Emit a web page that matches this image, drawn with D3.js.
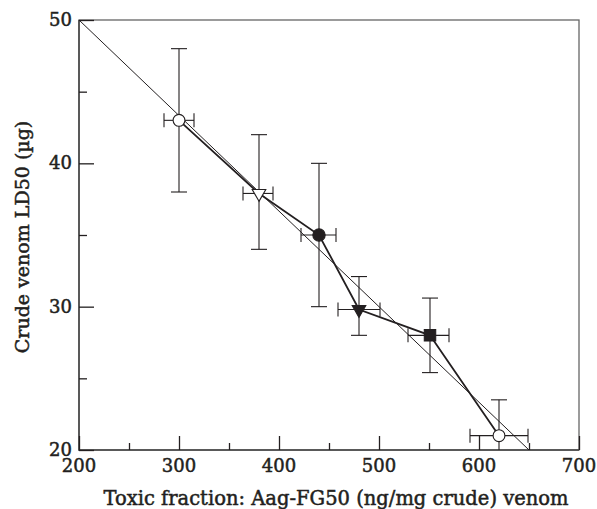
<!DOCTYPE html>
<html lang="en">
<head>
<meta charset="UTF-8">
<title>LD50 vs toxic fraction</title>
<script src="https://cdn.jsdelivr.net/npm/d3@7"></script>
<style>
    body{ margin:0; background:#fff; }
    text{ font-family:"DejaVu Serif", serif; fill:#231f20; stroke:#231f20; stroke-width:0.5px; }
</style>
</head>
<body>
<svg id="fig" width="597" height="509"></svg>
<script>
    // data
    let fg50 = [300, 380, 440, 480, 551, 620]
    let fg50_lo = [285, 364, 422, 459, 529, 591]
    let fg50_hi = [315, 394, 457, 501, 570, 649]
    let ld50 = [43, 37.9, 35, 29.8, 28, 21]
    let ld50_lo = [38, 34, 30, 28, 25.4, 20]
    let ld50_hi = [48, 42, 40, 32.1, 30.6, 23.5]
    let symbols = ["open-circle", "open-tri", "circle", "tri", "square", "open-circle"]
    // regression line ends
    let fit_x = [200, 650]
    let fit_y = [50, 20]
    let x_ticks = [200, 300, 400, 500, 600, 700]
    let y_ticks = [20, 30, 40, 50]

    let svg = d3.select("#fig")
    let m_left = 79, m_right = 579, m_top = 20, m_bottom = 450

    let x_scale = d3.scaleLinear().domain([200, 700]).range([m_left, m_right])
    let y_scale = d3.scaleLinear().domain([20, 50]).range([m_bottom, m_top])

    let ink = "#231f20"

    // frame
    svg.append("rect")
        .attr("x", m_left).attr("y", m_top)
        .attr("width", m_right - m_left).attr("height", m_bottom - m_top)
        .attr("fill", "none").attr("stroke", "#666").attr("stroke-width", 1.3)
    svg.append("path")
        .attr("d", `M${m_left},${m_top}V${m_bottom}H${m_right}`)
        .attr("fill", "none").attr("stroke", "#444").attr("stroke-width", 1.5)

    // inward ticks
    let x_axis = d3.axisTop(x_scale).tickValues(d3.range(200, 701, 50))
        .tickSize(0).tickFormat("")
    let gx = svg.append("g").attr("transform", `translate(0,${m_bottom})`).call(x_axis)
    gx.select(".domain").remove()
    gx.selectAll(".tick line")
        .attr("y2", d => d % 100 === 0 ? -14 : -7)
        .attr("stroke", ink).attr("stroke-width", 1.3)

    let y_axis = d3.axisRight(y_scale).tickValues(d3.range(20, 51, 5))
        .tickSize(0).tickFormat("")
    let gy = svg.append("g").attr("transform", `translate(${m_left},0)`).call(y_axis)
    gy.select(".domain").remove()
    gy.selectAll(".tick line")
        .attr("x2", d => d % 10 === 0 ? 15 : 8)
        .attr("stroke", ink).attr("stroke-width", 1.3)

    // tick labels
    svg.selectAll(".xl").data(x_ticks).join("text")
        .attr("class", "xl")
        .attr("x", d => x_scale(d)).attr("y", m_bottom + 22)
        .attr("text-anchor", "middle")
        .style("font-size", "18px")
        .text(d => d)

    svg.selectAll(".yl").data(y_ticks).join("text")
        .attr("class", "yl")
        .attr("x", m_left - 7).attr("y", d => y_scale(d) + 6)
        .attr("text-anchor", "end")
        .style("font-size", "18px")
        .text(d => d)

    // axis labels
    svg.append("text")
        .attr("x", 336).attr("y", 505)
        .attr("text-anchor", "middle")
        .style("font-size", "19.5px")
        .text("Toxic fraction: Aag-FG50 (ng/mg crude) venom")

    svg.append("text")
        .attr("transform", "translate(29,237) rotate(-90)")
        .attr("text-anchor", "middle")
        .style("font-size", "19px")
        .text("Crude venom LD50 (µg)")

    // regression line
    svg.append("line")
        .attr("x1", x_scale(fit_x[0])).attr("y1", y_scale(fit_y[0]))
        .attr("x2", x_scale(fit_x[1])).attr("y2", y_scale(fit_y[1]))
        .attr("stroke", ink).attr("stroke-width", 1)

    let pts = d3.range(fg50.length)

    // error bars
    let eb = svg.append("g").attr("stroke", ink).attr("stroke-width", 1.1)
    pts.forEach(i => {
        let cx = x_scale(fg50[i]), cy = y_scale(ld50[i])
        let y0 = y_scale(ld50_lo[i]), y1 = y_scale(ld50_hi[i])
        let x0 = x_scale(fg50_lo[i]), x1 = x_scale(fg50_hi[i])
        eb.append("line").attr("x1", cx).attr("x2", cx).attr("y1", y0).attr("y2", y1)
        eb.append("line").attr("x1", cx - 8).attr("x2", cx + 8).attr("y1", y1).attr("y2", y1)
        if (ld50_lo[i] > 20)
            eb.append("line").attr("x1", cx - 8).attr("x2", cx + 8).attr("y1", y0).attr("y2", y0)
        eb.append("line").attr("x1", x0).attr("x2", x1).attr("y1", cy).attr("y2", cy)
        eb.append("line").attr("x1", x0).attr("x2", x0).attr("y1", cy - 7).attr("y2", cy + 7)
        eb.append("line").attr("x1", x1).attr("x2", x1).attr("y1", cy - 7).attr("y2", cy + 7)
    })

    // connecting line
    svg.append("path")
        .datum(pts)
        .attr("d", d3.line().x(i => x_scale(fg50[i])).y(i => y_scale(ld50[i])))
        .attr("fill", "none").attr("stroke", ink).attr("stroke-width", 1.8)

    // markers
    let shape = {
        "open-circle": d3.symbolCircle, "circle": d3.symbolCircle,
        "open-tri": d3.symbolTriangle, "tri": d3.symbolTriangle, "square": d3.symbolSquare
    }
    let size = { "open-circle": 110, "circle": 120, "open-tri": 80, "tri": 80, "square": 130 }
    svg.selectAll(".mk").data(pts).join("path")
        .attr("class", "mk")
        .attr("transform", i => `translate(${x_scale(fg50[i])},${y_scale(ld50[i])})` +
            (symbols[i].indexOf("tri") >= 0 ? " rotate(180)" : ""))
        .attr("d", i => d3.symbol().type(shape[symbols[i]]).size(size[symbols[i]])())
        .attr("fill", i => symbols[i].startsWith("open") ? "#fff" : ink)
        .attr("stroke", ink).attr("stroke-width", 1.1)
</script>
</body>
</html>
